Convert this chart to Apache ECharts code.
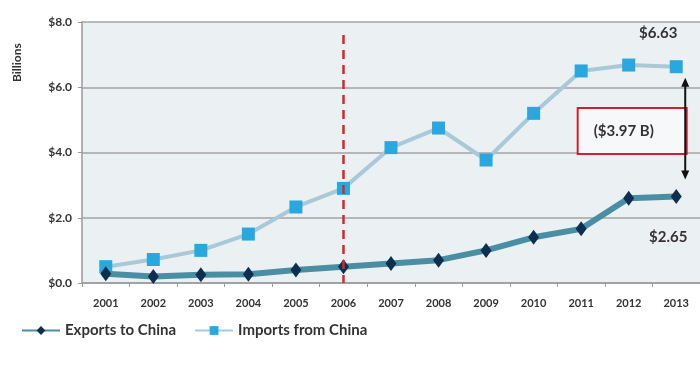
<!DOCTYPE html>
<html><head><meta charset="utf-8">
<script src="https://cdn.jsdelivr.net/npm/echarts@6/dist/echarts.min.js"></script>
<style>html,body{margin:0;padding:0;background:#fff}#c{width:700px;height:371px}</style>
</head><body><div id="c"></div>
<script>
const years = ['2001','2002','2003','2004','2005','2006','2007','2008','2009','2010','2011','2012','2013'];
const exportsToChina = [0.28,0.2,0.25,0.27,0.4,0.5,0.6,0.7,1.0,1.4,1.66,2.6,2.65];
const importsFromChina = [0.5,0.72,1.0,1.5,2.33,2.9,4.15,4.75,3.77,5.2,6.5,6.68,6.63];
const yTicks = [0,2,4,6,8];
const gapLabel = '($3.97 B)';
const importsEndLabel = '$6.63';
const exportsEndLabel = '$2.65';
const markYear = '2006';

const FONT = 'Lato, "Open Sans", sans-serif';
const chart = echarts.init(document.getElementById('c'));
chart.setOption({
  animation:false,
  backgroundColor:'#ffffff',
  textStyle:{fontFamily:FONT},
  grid:{left:82, top:22, height:261, width:630, show:true, backgroundColor:'#ebf0f3', borderWidth:0},
  legend:{
    left:16, top:318, itemWidth:38, itemHeight:11, itemGap:18,
    textStyle:{fontSize:15, fontWeight:'bold', color:'#333', fontFamily:FONT},
    data:['Exports to China','Imports from China']
  },
  xAxis:{
    type:'category', data:years, boundaryGap:true,
    axisLine:{lineStyle:{color:'#9a9a9a', width:1.5}},
    axisTick:{show:true, length:4, lineStyle:{color:'#9a9a9a'}},
    axisLabel:{fontSize:11, fontWeight:'bold', color:'#333', margin:15, fontFamily:FONT}
  },
  yAxis:{
    type:'value', min:yTicks[0], max:yTicks[yTicks.length-1], interval:2,
    axisLine:{show:true, lineStyle:{color:'#9a9a9a', width:1.5}},
    axisTick:{show:true, length:4, lineStyle:{color:'#9a9a9a'}},
    axisLabel:{fontSize:12, fontWeight:'bold', color:'#333', margin:10, fontFamily:FONT,
      formatter:v=>'$'+v.toFixed(1)},
    splitLine:{lineStyle:{color:'#a3a3a3', width:1.5}}
  },
  series:[
    {
      name:'Exports to China', type:'line', data:exportsToChina,
      symbol:'diamond', symbolSize:[11,15],
      lineStyle:{color:'#4a8ea4', width:6},
      itemStyle:{color:'#0d2f50'},
      z:3
    },
    {
      name:'Imports from China', type:'line', data:importsFromChina,
      symbol:'rect', symbolSize:13,
      lineStyle:{color:'#a8c9d8', width:4},
      itemStyle:{color:'#29a8df'},
      z:2,
      markLine:{
        silent:true, symbol:'none', label:{show:false},
        lineStyle:{color:'#d9262b', type:[9,6], width:2.5},
        data:[[{coord:[markYear,7.6]},{coord:[markYear,0]}]]
      }
    }
  ]
});

const last = years[years.length-1];
const pImp = chart.convertToPixel({xAxisIndex:0,yAxisIndex:0},[last, importsFromChina[12]]);
const pExp = chart.convertToPixel({xAxisIndex:0,yAxisIndex:0},[last, exportsToChina[12]]);
const pBox = chart.convertToPixel({xAxisIndex:0,yAxisIndex:0},[years[11], 4.66]);
const ax = pImp[0] + 9;
const aTop = pImp[1] + 11, aBot = pExp[1] - 17;
chart.setOption({
  graphic:[
    {type:'text', x:17, y:82, rotation:Math.PI/2,
      style:{text:'Billions', font:'bold 12px '+FONT, fill:'#333', align:'left', verticalAlign:'middle'}},
    {type:'text', x:pImp[0]-18, y:pImp[1]-34,
      style:{text:importsEndLabel, font:'bold 15px '+FONT, fill:'#333', align:'center', verticalAlign:'middle'}},
    {type:'text', x:pExp[0]-8, y:pExp[1]+41,
      style:{text:exportsEndLabel, font:'bold 15px '+FONT, fill:'#333', align:'center', verticalAlign:'middle'}},
    {type:'rect', shape:{x:pBox[0]-51, y:pBox[1]-23, width:109, height:46},
      style:{fill:'#f7f8f9', stroke:'#cf2030', lineWidth:2}},
    {type:'text', x:pBox[0]-5, y:pBox[1],
      style:{text:gapLabel, font:'bold 15px '+FONT, fill:'#333', align:'center', verticalAlign:'middle'}},
    {type:'line', shape:{x1:ax, y1:aTop+6, x2:ax, y2:aBot-6}, style:{stroke:'#111', lineWidth:2}},
    {type:'polygon', shape:{points:[[ax,aTop],[ax-4,aTop+9],[ax+4,aTop+9]]}, style:{fill:'#111'}},
    {type:'polygon', shape:{points:[[ax,aBot],[ax-4,aBot-9],[ax+4,aBot-9]]}, style:{fill:'#111'}}
  ]
});
</script></body></html>
